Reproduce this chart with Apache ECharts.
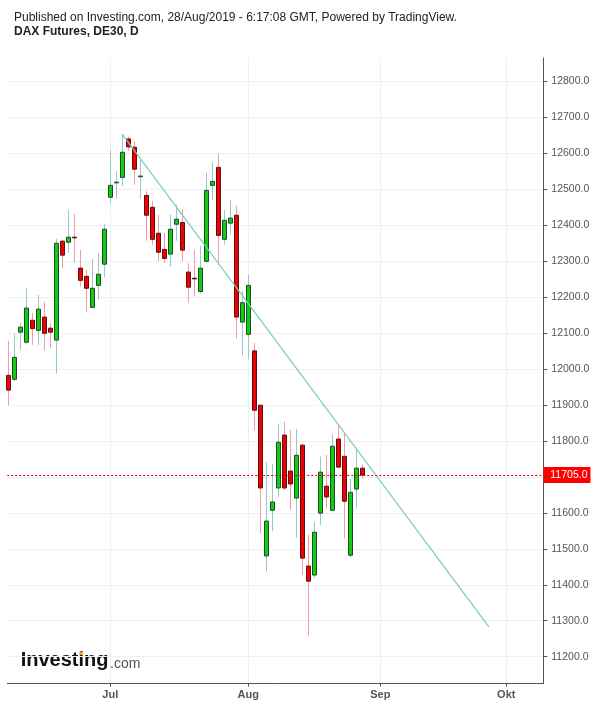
<!DOCTYPE html>
<html><head><meta charset="utf-8">
<script src="https://cdn.jsdelivr.net/npm/echarts@6/dist/echarts.min.js"></script>
<style>html,body{margin:0;padding:0;background:#fff}#c{width:600px;height:708px}</style>
</head><body><div id="c"></div>
<script>
// ---- data (daily bars, index 0 = first visible trading day; Jul 1 = index 17) ----
const open  = [11982,11971,12102,12074,12135,12107,12144,12113,12080,12355,12352,12366,12280,12257,12171,12232,12291,12477,12517,12532,12639,12616,12534,12482,12449,12377,12332,12319,12402,12407,12269,12252,12215,12299,12510,12560,12360,12405,12427,12130,12096,12050,11899,11480,11607,11669,11816,11716,11641,11788,11452,11427,11599,11674,11607,11805,11757,11482,11666,11724];
const close = [11941,12032,12116,12169,12112,12166,12099,12102,12349,12316,12366,12364,12246,12224,12224,12263,12388,12510,12519,12602,12617,12555,12536,12427,12360,12324,12307,12388,12416,12330,12227,12250,12280,12496,12521,12371,12413,12419,12144,12184,12232,11885,11669,11577,11630,11796,11669,11680,11760,11474,11410,11546,11713,11644,11785,11727,11632,11657,11724,11705];
const low   = [11898,11965,12053,12070,12067,12065,12051,12059,11987,12281,12323,12295,12229,12159,12168,12192,12254,12459,12473,12509,12606,12512,12473,12356,12345,12298,12295,12284,12356,12298,12184,12201,12210,12295,12469,12290,12345,12373,12084,12037,12027,11829,11542,11437,11549,11645,11664,11609,11531,11428,11259,11419,11566,11612,11605,11725,11529,11476,11612,11695];
const high  = [12078,12097,12130,12224,12155,12206,12186,12127,12361,12358,12442,12431,12331,12275,12306,12322,12403,12608,12550,12652,12645,12633,12581,12494,12467,12428,12378,12428,12456,12444,12294,12331,12342,12545,12574,12599,12442,12469,12453,12216,12261,12072,11899,11741,11736,11847,11853,11831,11833,11790,11539,11575,11756,11761,11819,11847,11819,11694,11777,11734];
const monthLabels = ['Jul','Aug','Sep','Okt'];
const monthIndex  = [17,40,62,83];
const yTicks = [11200,11300,11400,11500,11600,11700,11800,11900,12000,12100,12200,12300,12400,12500,12600,12700,12800];
const lastPrice = 11705;
const trendX = [19, 80.1];
const trendY = [12652, 11283];
const headerText = 'Published on Investing.com, 28/Aug/2019 - 6:17:08 GMT, Powered by TradingView.';
const symbolText = 'DAX Futures, DE30, D';

const FONT = '"Liberation Sans", Arial, sans-serif';
const wickData = open.map((o,i)=>[i, o, close[i], low[i], high[i]]);
const bodyData = open.map((o,i)=>[i, o, close[i], Math.min(o,close[i]), Math.max(o,close[i])]);

const chart = echarts.init(document.getElementById('c'), null, {renderer:'canvas'});
chart.setOption({
  animation:false,
  title:[
    {text:headerText, left:14, top:12, padding:0, textStyle:{fontSize:12, fontWeight:'normal', color:'#222', fontFamily:FONT}},
    {text:symbolText, left:14, top:26, padding:0, textStyle:{fontSize:12, fontWeight:'bold', color:'#222', fontFamily:FONT}}
  ],
  grid:{left:7.3, right:56.7, top:58, bottom:24.3},
  xAxis:{
    type:'value', min:-0.17, max:89.17,
    axisLine:{show:true, onZero:false, lineStyle:{color:'#555'}},
    axisTick:{show:true, customValues:monthIndex, length:3, lineStyle:{color:'#555'}},
    axisLabel:{customValues:monthIndex, formatter:v=>monthLabels[monthIndex.indexOf(Math.round(v))], color:'#555', fontWeight:'bold', fontSize:11, margin:6, fontFamily:FONT},
    splitLine:{show:true, lineStyle:{color:'#f0f0f0'}}
  },
  yAxis:{
    type:'value', position:'right', min:11125, max:12864,
    axisLine:{show:true, onZero:false, lineStyle:{color:'#555'}},
    axisTick:{show:true, customValues:yTicks, length:4, lineStyle:{color:'#555'}},
    axisLabel:{customValues:yTicks, formatter:v=>v.toFixed(1), color:'#555', fontSize:10.5, margin:8, fontFamily:FONT},
    splitLine:{show:true, lineStyle:{color:'#f0f0f0'}}
  },
  graphic:[
    {type:'text', left:20.7, top:650, style:{text:'Investing', font:'bold 20px "Liberation Sans", Arial', fill:'#111'}},
    {type:'text', left:110, top:657, style:{text:'.com', font:'14px "Liberation Sans", Arial', fill:'#555'}},
    {type:'rect', shape:{x:79.5, y:651.5, width:3.5, height:3.5}, style:{fill:'#f5a623'}}
  ],
  series:[
    {type:'candlestick', data:wickData, barWidth:0.1, silent:true, z:2,
     itemStyle:{color:'#96c8cc', color0:'#f59aa4', borderColor:'#96c8cc', borderColor0:'#f59aa4', borderWidth:1}},
    {type:'candlestick', data:bodyData, barWidth:4, silent:true, z:3,
     itemStyle:{color:'#12cc12', color0:'#f00000', borderColor:'#1e4a2c', borderColor0:'#5a1010', borderWidth:1},
     markLine:{symbol:'none', silent:true, data:[{yAxis:lastPrice}],
       lineStyle:{color:'#e00000', type:[2,2], width:1},
       label:{position:'end', formatter:lastPrice.toFixed(1), color:'#fff', backgroundColor:'#ff0000', fontSize:10.5, padding:[3,3,2,7], distance:0, fontFamily:FONT}}},
    {type:'line', data:trendX.map((x,i)=>[x, trendY[i]]), symbol:'none', silent:true, z:4,
     lineStyle:{color:'#7ccbb8', width:1.2}}
  ]
});
</script>
</body></html>
